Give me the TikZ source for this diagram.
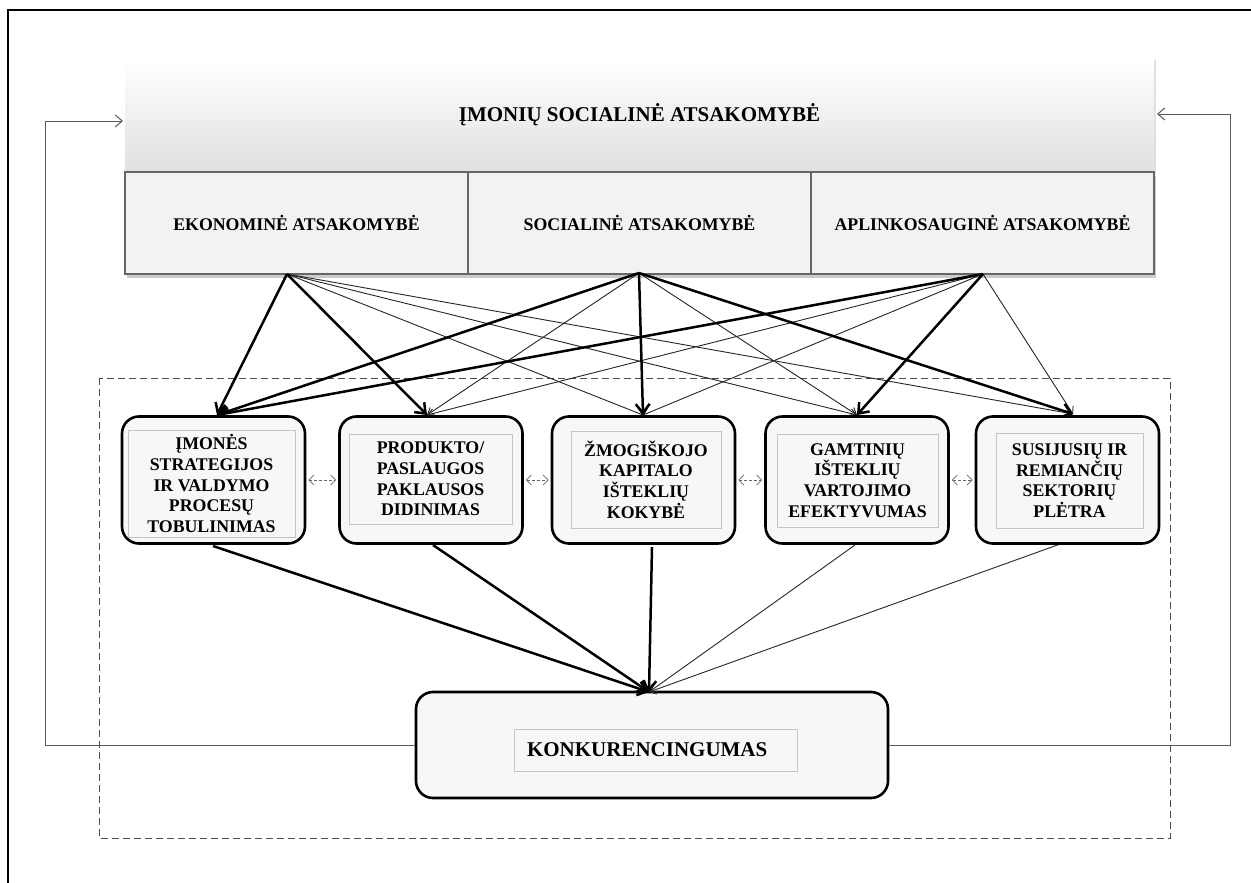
\documentclass[tikz,border=0pt]{standalone}
\usepackage{fontspec}
\setmainfont{Liberation Serif}
\usetikzlibrary{arrows.meta,shadows,calc}
\definecolor{boxfill}{HTML}{F2F2F2}
\definecolor{rfill}{HTML}{F7F7F7}
\definecolor{innerline}{HTML}{C4C4C4}
\begin{document}
\begin{tikzpicture}[x=1pt,y=-1pt,
  topbox/.style={minimum width=1029pt, minimum height=114pt, inner sep=0pt,
    top color=white, bottom color=black!12, draw=none,
    drop shadow={shadow xshift=2pt,shadow yshift=-2pt,opacity=0.25},
    font=\fontsize{21}{24}\selectfont\bfseries},
  respbox/.style={draw=black!60, line width=1.1pt, fill=boxfill, minimum width=343pt,
    minimum height=102pt, inner sep=0pt,
    drop shadow={shadow xshift=2pt,shadow yshift=-4pt,opacity=0.4},
    font=\fontsize{17.8}{20}\selectfont\bfseries},
  outerbox/.style={draw=black, line width=2.6pt, rounded corners=17pt, fill=rfill,
    minimum width=183pt, minimum height=127pt, inner sep=0pt},
  innerbox/.style={draw=innerline, line width=0.8pt, fill=rfill, inner sep=0pt,
    align=center, font=\fontsize{17.8}{20.7}\selectfont\bfseries},
  thickarr/.style={line width=2.5pt, -{Straight Barb[length=9pt,width=14pt]}},
  thinarr/.style={line width=0.9pt, draw=black!85, -{Straight Barb[length=6pt,width=9pt]}},
  linkarr/.style={densely dashed, line width=0.8pt, draw=black!60,
    {Straight Barb[length=5pt,width=10pt]}-{Straight Barb[length=5pt,width=10pt]}},
  fbarr/.style={line width=1pt, draw=black!65, -{Straight Barb[length=7pt,width=12pt]}},
  region/.style={dash pattern=on 7pt off 4pt, line width=0.9pt, draw=black!70}
]
\useasboundingbox (0,0) rectangle (1251,883);
\fill[white] (0,0) rectangle (1251,883);
% outer frame (left and top)
\draw[line width=2pt] (8,883) -- (8,10) -- (1251,10);

% dashed region
\draw[region] (99,378) rectangle (1170,838);

% top boxes
\node[topbox] (csr) at (639.5,115) {ĮMONIŲ SOCIALINĖ ATSAKOMYBĖ};
\node[respbox] (ek) at (296.5,223) {EKONOMINĖ ATSAKOMYBĖ};
\node[respbox] (so) at (639.5,223) {SOCIALINĖ ATSAKOMYBĖ};
\node[respbox] (ap) at (982.5,223) {APLINKOSAUGINĖ ATSAKOMYBĖ};

% sources and targets
\coordinate (es) at (287,274);
\coordinate (ss) at (639,273);
\coordinate (as) at (983,274);
\coordinate (t1) at (217,415);
\coordinate (t2) at (427,415);
\coordinate (t3) at (643,415);
\coordinate (t4) at (857,415);
\coordinate (t5) at (1073,414);

% thin arrows
\draw[thinarr] (es) -- (t3);
\draw[thinarr] (es) -- (t4);
\draw[thinarr] (es) -- (t5);
\draw[thinarr] (ss) -- (t2);
\draw[thinarr] (ss) -- (t4);
\draw[thinarr] (as) -- (t2);
\draw[thinarr] (as) -- (t3);
\draw[thinarr] (as) -- (t5);
% thick arrows
\draw[thickarr] (es) -- (t1);
\draw[thickarr] (es) -- (t2);
\draw[thickarr] (ss) -- (t1);
\draw[thickarr] (ss) -- (t3);
\draw[thickarr] (ss) -- (t5);
\draw[thickarr] (as) -- (t1);
\draw[thickarr] (as) -- (t4);

% bottom box
\node[outerbox, minimum width=472pt, minimum height=106pt] (konk) at (652,745) {};
\node[draw=innerline, line width=0.8pt, fill=rfill, text width=257pt, inner xsep=13pt,
  minimum height=42pt, inner ysep=0pt, align=left,
  font=\fontsize{21}{24}\selectfont\bfseries] (konkin) at (655.5,750) {KONKURENCINGUMAS};

\coordinate (k) at (649,692);
\coordinate (u1) at (213,546);
\coordinate (u2) at (433,545);
\coordinate (u3) at (652,547);
\coordinate (u4) at (855,545);
\coordinate (u5) at (1063,543);
\draw[thinarr] (u4) -- (k);
\draw[thinarr] (u5) -- (k);
\draw[thickarr] (u1) -- (k);
\draw[thickarr] (u2) -- (k);
\draw[thickarr] (u3) -- (k);

% five factor boxes
\node[outerbox] (b1) at (213.5,480) {};
\node[outerbox] (b2) at (431,480) {};
\node[outerbox] (b3) at (643.5,480) {};
\node[outerbox] (b4) at (857,480) {};
\node[outerbox] (b5) at (1067.5,480) {};
\node[innerbox, minimum width=167pt, minimum height=107pt] (i1) at (211.5,483.5)
  {ĮMONĖS\\STRATEGIJOS\\IR VALDYMO\\PROCESŲ\\TOBULINIMAS};
\node[innerbox, minimum width=163pt, minimum height=90pt] (i2) at (430.5,479)
  {PRODUKTO/\\PASLAUGOS\\PAKLAUSOS\\DIDINIMAS};
\node[innerbox, minimum width=150pt, minimum height=97pt] (i3) at (646,479.5)
  {ŽMOGIŠKOJO\\KAPITALO\\IŠTEKLIŲ\\KOKYBĖ};
\node[innerbox, minimum width=161pt, minimum height=93pt] (i4) at (857.5,480.5)
  {GAMTINIŲ\\IŠTEKLIŲ\\VARTOJIMO\\EFEKTYVUMAS};
\node[innerbox, minimum width=147pt, minimum height=95pt] (i5) at (1069.5,480.5)
  {SUSIJUSIŲ IR\\REMIANČIŲ\\SEKTORIŲ\\PLĖTRA};

% links between factor boxes
\draw[linkarr] ([xshift=2pt]b1.east) -- ([xshift=-2pt]b2.west);
\draw[linkarr] ([xshift=2pt]b2.east) -- ([xshift=-2pt]b3.west);
\draw[linkarr] ([xshift=2pt]b3.east) -- ([xshift=-2pt]b4.west);
\draw[linkarr] ([xshift=2pt]b4.east) -- ([xshift=-2pt]b5.west);

% feedback loops
\coordinate (fbL) at (123,121);
\coordinate (fbR) at (1157,114);
\draw[fbarr] (konk.west) -- (45,745) |- (fbL);
\draw[fbarr] (konk.east) -- (1230,745) |- (fbR);
\end{tikzpicture}
\end{document}
